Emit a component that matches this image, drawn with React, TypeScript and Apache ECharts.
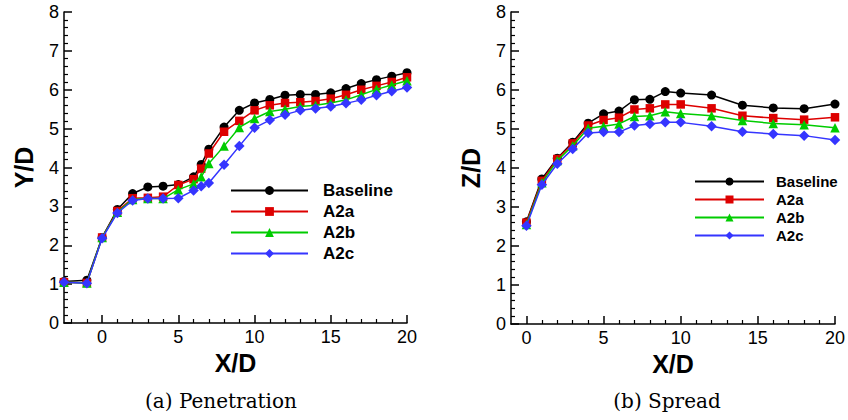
import React, { useEffect, useRef } from "react";
import * as echarts from "echarts";

// ---- Data: Penetration (a) ----
const xPen = [-2.5, -1, 0, 1, 2, 3, 4, 5, 6, 6.5, 7, 8, 9, 10, 11, 12, 13, 14, 15, 16, 17, 18, 19, 20];
const penBaseline = [1.07, 1.1, 2.2, 2.92, 3.33, 3.5, 3.52, 3.56, 3.76, 4.08, 4.47, 5.04, 5.47, 5.66, 5.75, 5.86, 5.88, 5.88, 5.92, 6.03, 6.16, 6.26, 6.35, 6.44];
const penA2a = [1.05, 1.03, 2.2, 2.88, 3.21, 3.22, 3.25, 3.55, 3.7, 3.97, 4.36, 4.92, 5.2, 5.47, 5.6, 5.66, 5.68, 5.71, 5.77, 5.87, 6.0, 6.1, 6.2, 6.32];
const penA2b = [1.05, 1.03, 2.2, 2.85, 3.18, 3.2, 3.2, 3.43, 3.58, 3.76, 4.1, 4.55, 5.03, 5.26, 5.44, 5.5, 5.57, 5.6, 5.66, 5.74, 5.87, 6.01, 6.12, 6.23];
const penA2c = [1.05, 1.02, 2.18, 2.83, 3.15, 3.2, 3.2, 3.21, 3.41, 3.52, 3.6, 4.07, 4.55, 5.02, 5.22, 5.36, 5.47, 5.52, 5.57, 5.65, 5.74, 5.86, 5.96, 6.06];

// ---- Data: Spread (b) ----
const xSpr = [0, 1, 2, 3, 4, 5, 6, 7, 8, 9, 10, 12, 14, 16, 18, 20];
const sprBaseline = [2.62, 3.72, 4.25, 4.66, 5.15, 5.39, 5.46, 5.75, 5.76, 5.96, 5.92, 5.87, 5.61, 5.54, 5.52, 5.64];
const sprA2a = [2.6, 3.67, 4.23, 4.63, 5.09, 5.23, 5.29, 5.5, 5.53, 5.63, 5.63, 5.53, 5.34, 5.28, 5.24, 5.3];
const sprA2b = [2.55, 3.62, 4.19, 4.57, 5.02, 5.07, 5.13, 5.32, 5.34, 5.44, 5.4, 5.34, 5.22, 5.14, 5.11, 5.03];
const sprA2c = [2.52, 3.57, 4.11, 4.49, 4.9, 4.92, 4.92, 5.09, 5.13, 5.17, 5.17, 5.07, 4.93, 4.87, 4.83, 4.72];

const seriesNames = ["Baseline", "A2a", "A2b", "A2c"];
const colors = ["#000000", "#dd0000", "#00cc00", "#3535ff"];
const symbols = ["circle", "rect", "triangle", "diamond"];
const symbolSizes = [9, 8.5, 9.5, 10.5];

const majorTicks = [0, 5, 10, 15, 20];
const minorTicksPen = [-2, -1, 1, 2, 3, 4, 6, 7, 8, 9, 11, 12, 13, 14, 16, 17, 18, 19];
const minorTicksSpr = [1, 2, 3, 4, 6, 7, 8, 9, 11, 12, 13, 14, 16, 17, 18, 19];

const SANS = "'Liberation Sans', Arial, Helvetica, sans-serif";
const SERIF = "'DejaVu Serif', serif";

function zip(xs: number[], ys: number[]) {
  return xs.map((x, i) => [x, ys[i]]);
}

export default function App() {
  const ref = useRef<HTMLDivElement>(null);
  useEffect(() => {
    if (!ref.current) return;
    const chart = echarts.init(ref.current, null, { renderer: "svg" });

    const axisLine = { show: true, onZero: false, lineStyle: { color: "#000", width: 1.5 } };
    const mkXMain = (grid: number, min: number) => ({
      type: "value",
      gridIndex: grid,
      min,
      max: 20,
      position: "bottom",
      axisLine,
      splitLine: { show: false },
      axisTick: { show: true, inside: true, length: 8, customValues: majorTicks, lineStyle: { color: "#000", width: 1.5 } },
      axisLabel: { show: true, customValues: majorTicks, color: "#000", fontSize: 18, fontFamily: SANS, margin: 5 },
      name: "X/D",
      nameLocation: "middle",
      nameGap: 24,
      nameTextStyle: { color: "#000", fontSize: 25, fontWeight: "bold", fontFamily: SANS },
    });
    const mkXMinor = (grid: number, min: number, ticks: number[]) => ({
      type: "value",
      gridIndex: grid,
      min,
      max: 20,
      position: "bottom",
      axisLine: { show: false, onZero: false },
      splitLine: { show: false },
      axisTick: { show: true, inside: true, length: 4, customValues: ticks, lineStyle: { color: "#000", width: 1.2 } },
      axisLabel: { show: false },
    });
    const mkY = (grid: number, name: string) => ({
      type: "value",
      gridIndex: grid,
      min: 0,
      max: 8,
      interval: 1,
      axisLine,
      splitLine: { show: false },
      axisTick: { show: true, inside: true, length: 8, lineStyle: { color: "#000", width: 1.5 } },
      minorTick: { show: true, splitNumber: 5, length: 4, lineStyle: { color: "#000", width: 1.2 } },
      axisLabel: { color: "#000", fontSize: 18, fontFamily: SANS, margin: 5 },
      name,
      nameLocation: "middle",
      nameGap: 28,
      nameTextStyle: { color: "#000", fontSize: 25, fontWeight: "bold", fontFamily: SANS },
    });

    const penData = [penBaseline, penA2a, penA2b, penA2c];
    const sprData = [sprBaseline, sprA2a, sprA2b, sprA2c];

    const mkSeries = (xs: number[], data: number[][], xi: number, yi: number) =>
      data.map((ys, i) => ({
        name: seriesNames[i],
        type: "line",
        xAxisIndex: xi,
        yAxisIndex: yi,
        data: zip(xs, ys),
        symbol: symbols[i],
        symbolSize: symbolSizes[i],
        color: colors[i],
        itemStyle: { color: colors[i] },
        lineStyle: { color: colors[i], width: 1.5 },
        z: 2 + i,
      }));

    chart.setOption({
      animation: false,
      backgroundColor: "#fff",
      grid: [
        { left: 64, top: 12, width: 343, height: 311 },
        { left: 511, top: 12, width: 326, height: 312 },
      ],
      xAxis: [mkXMain(0, -2.5), mkXMinor(0, -2.5, minorTicksPen), mkXMain(1, -1), mkXMinor(1, -1, minorTicksSpr)],
      yAxis: [mkY(0, "Y/D"), mkY(1, "Z/D")],
      legend: [
        {
          data: seriesNames,
          orient: "vertical",
          left: 230,
          top: 182,
          padding: 0,
          itemWidth: 77,
          itemHeight: 11,
          itemGap: 4,
          textStyle: { color: "#000", fontSize: 17, fontWeight: "bold", fontFamily: SANS, padding: [0, 0, 0, 10] },
          selectedMode: false,
        },
        {
          data: seriesNames,
          orient: "vertical",
          left: 694,
          top: 174,
          padding: 0,
          itemWidth: 69,
          itemHeight: 10,
          itemGap: 3,
          textStyle: { color: "#000", fontSize: 15, fontWeight: "bold", fontFamily: SANS, padding: [0, 0, 0, 7] },
          selectedMode: false,
        },
      ],
      series: [...mkSeries(xPen, penData, 0, 0), ...mkSeries(xSpr, sprData, 2, 1)],
      graphic: [
        {
          type: "text",
          x: 221,
          y: 401,
          style: { text: "(a) Penetration", fill: "#000", font: `20px ${SERIF}`, textAlign: "center", textVerticalAlign: "middle" },
        },
        {
          type: "text",
          x: 667,
          y: 401,
          style: { text: "(b) Spread", fill: "#000", font: `20px ${SERIF}`, textAlign: "center", textVerticalAlign: "middle" },
        },
      ],
    });
    return () => chart.dispose();
  }, []);
  return <div ref={ref} style={{ position: "fixed", left: 0, top: 0, width: 848, height: 420 }} />;
}
